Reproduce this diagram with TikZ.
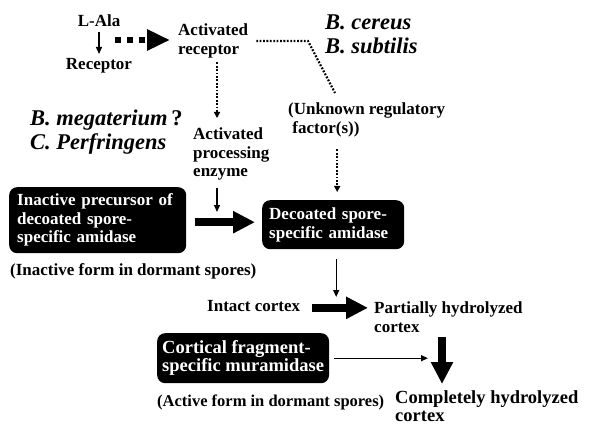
\documentclass[tikz,border=0pt]{standalone}
\usepackage{fontspec}
\setmainfont{Liberation Serif}
\usetikzlibrary{arrows.meta}
\newcommand\lbfont{\fontsize{17}{18.5}\selectfont\bfseries}
\newcommand\bigfont{\fontsize{18.5}{18.5}\selectfont\bfseries}
\newcommand\spfont{\fontsize{22.5}{24}\selectfont\bfseries\itshape}
\begin{document}
\begin{tikzpicture}[x=1pt,y=-1pt,
    lbl/.style={font=\lbfont,inner sep=0pt,align=left},
    species/.style={font=\spfont,inner sep=0pt,align=left},
    enzbox/.style={font=\lbfont,fill=black,text=white,rounded corners=8pt,
        align=left,inner ysep=0pt,anchor=north west},
    thinarrow/.style={line width=1.4pt,-{Triangle[length=7pt,width=6pt]}},
    dotline/.style={line width=2.2pt,dash pattern=on 1.8pt off 1.6pt},
    dotarrow/.style={dotline,-{Triangle[length=6pt,width=6pt]}},
    blockarrow/.style={line width=8pt,-{Triangle[length=22pt,width=21pt]}},
    dasharrow/.style={line width=6pt,dash pattern=on 6pt off 6pt,
        -{Triangle[length=23pt,width=20pt]}}]
    \useasboundingbox (0,0) rectangle (592,425);
    % receptor activation
    \node[lbl,anchor=north] (ala) at (99,15) {L-Ala};
    \node[lbl,anchor=north] (receptor) at (99,58) {Receptor};
    \node[lbl,anchor=north west] (actrec) at (178,24) {Activated\\receptor};
    \node[species,anchor=north west] (bcereus) at (325,15) {B. cereus\\B. subtilis};
    \node[species,anchor=north west] (bmega) at (30,110)
        {B. megaterium\,\textup{?}\\C. Perfringens};
    \node[lbl,anchor=north west] (unknown) at (288,103)
        {(Unknown regulatory\\\ factor(s))};
    \node[lbl,anchor=north west] (actenz) at (193,128)
        {Activated\\processing\\enzyme};
    \coordinate (sig) at (115,40);
    \coordinate (bend) at (308,41);
    \draw[thinarrow,shorten <=5pt,shorten >=4pt] (ala) -- (receptor);
    \draw[dasharrow,shorten >=8pt] (sig) -- (sig -| actrec.west);
    \path (unknown.north west) ++(47,-10) coordinate (ufoot); % end of dotted line
    \draw[dotline,shorten <=8pt] (actrec.east |- bend) -- (bend) -- (ufoot);
    \path (actrec.south west) ++(39,0) coordinate (a1);
    \draw[dotarrow,shorten <=4pt,shorten >=10pt] (a1) -- (a1 |- actenz.north);
    % amidase activation
    \node[enzbox,text width=161pt,inner xsep=8pt,minimum height=66pt] (precursor)
        at (9,187) {Inactive precursor of\\decoated spore-\\specific amidase};
    \node[lbl,anchor=north west] (inactive) at (10,263)
        {(Inactive form in dormant spores)};
    \node[enzbox,text width=128pt,inner xsep=7pt,minimum height=49pt] (amidase)
        at (262,200) {Decoated spore-\\specific amidase};
    \coordinate (hit) at (217,212);
    \draw[thinarrow,shorten <=7pt] (actenz.south -| hit) -- (hit);
    \draw[blockarrow,shorten <=9pt,shorten >=7pt]
        ([yshift=-2pt]precursor.east) -- ([yshift=-2pt]precursor.east -| amidase.west);
    \draw[dotarrow,shorten <=12pt,shorten >=8pt]
        ([xshift=4pt]amidase.north |- unknown.south) -- ([xshift=4pt]amidase.north);
    % cortex hydrolysis
    \node[lbl,anchor=north west] (intact) at (207,300) {Intact cortex};
    \node[lbl,anchor=north west] (partial) at (374,302) {Partially hydrolyzed\\cortex};
    \node[enzbox,font=\bigfont,inner xsep=5pt,minimum width=171pt,minimum height=50pt]
        (muramidase) at (157,333) {Cortical fragment-\\specific muramidase};
    \node[lbl,font=\fontsize{16.5}{18}\selectfont\bfseries,anchor=north west] (active)
        at (157,395) {(Active form in dormant spores)};
    \node[lbl,font=\bigfont,anchor=north west] (complete) at (395,390)
        {Completely hydrolyzed\\cortex};
    \draw[thinarrow,shorten <=10pt,shorten >=3pt]
        ([xshift=3pt]amidase.south) -- ([xshift=3pt]amidase.south |- intact.north);
    \draw[blockarrow,shorten <=12pt,shorten >=6pt]
        ([yshift=-2pt]intact.east) -- ([yshift=-2pt]intact.east -| partial.west);
    \path (partial.south west) ++(68,0) coordinate (d1); % top of second drop
    \draw[blockarrow,shorten <=4pt,shorten >=6pt] (d1) -- (d1 |- complete.north);
    \draw[thinarrow,shorten <=5pt,shorten >=14pt]
        (muramidase.east) -- (muramidase.east -| d1);
\end{tikzpicture}
\end{document}
